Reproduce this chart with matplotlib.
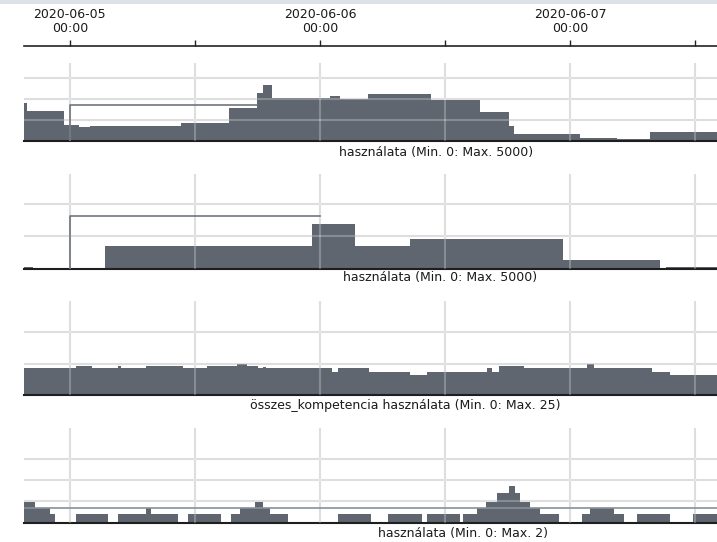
import numpy as np
import matplotlib.pyplot as plt

# time axis: hours after 2020-06-05 00:00
day_labels = ['2020-06-05', '2020-06-06', '2020-06-07']
hour_ticks = [0, 12, 24, 36, 48, 60]
x_start, x_end = -4.4, 62.1

# panel 1 - használata (Max. 5000)
p1_edges = [-4.4, -4.1, -0.6, 0.9, 1.9, 10.7, 15.3, 18.0, 18.5, 19.4, 25.0,
            25.9, 28.6, 34.7, 39.4, 42.1, 42.6, 49.0, 52.5, 55.7, 62.1]
p1_vals = [2260, 1790, 950, 850, 910, 1090, 1980, 2870, 3330, 2540,
           2700, 2520, 2780, 2460, 1740, 890, 400, 160, 100, 520]
p1_box = (0, 18.0, 2140)  # start, end, level of the outline

# panel 2 - használata (Max. 5000)
p2_edges = [-4.4, -3.55, 3.4, 23.2, 27.4, 32.6, 47.3, 56.6, 57.2, 62.1]
p2_vals = [100, 0, 1190, 2290, 1190, 1530, 450, 0, 100]
p2_box = (0, 24.0, 2730)

# panel 3 - összes_kompetencia használata (Max. 25)
p3_edges = [-4.4, 0.6, 2.1, 4.6, 4.9, 7.3, 10.85, 13.15, 16.0, 17.0, 18.1,
            18.5, 18.8, 25.15, 25.7, 28.7, 32.6, 34.3, 40.0, 40.5, 41.2,
            43.6, 49.6, 50.3, 55.9, 57.6, 62.1]
p3_vals = [7.1, 7.7, 7.1, 7.7, 7.1, 7.7, 7.1, 7.7, 8.1, 7.7, 7.1, 7.5, 7.1,
           6.0, 7.1, 6.0, 5.3, 6.0, 7.1, 6.0, 7.7, 7.1, 8.1, 7.1, 6.0, 5.3]

# panel 4 - használata (Max. 2)
p4_edges = [-4.4, -3.3, -1.9, -1.4, 0.6, 3.65, 4.6, 7.3, 7.8, 10.4, 11.3,
            14.5, 15.5, 16.3, 17.8, 18.5, 19.2, 20.9, 25.7, 28.9, 30.5, 33.8,
            34.3, 37.4, 37.7, 39.1, 39.9, 41.0, 42.1, 42.7, 43.2, 44.2, 45.1,
            46.9, 49.15, 49.9, 52.2, 53.2, 54.4, 57.6, 59.8, 62.1]
p4_vals = [0.49, 0.34, 0.2, 0, 0.2, 0, 0.2, 0.34, 0.2, 0, 0.2, 0, 0.2, 0.34,
           0.49, 0.34, 0.2, 0, 0.2, 0, 0.2, 0, 0.2, 0, 0.2, 0.34, 0.49, 0.71,
           0.87, 0.71, 0.49, 0.34, 0.2, 0, 0.2, 0.34, 0.2, 0, 0.2, 0, 0.2]
p4_ref = 0.34

FILL = '#5f6670'
GRID = '#d3d3d3'

W, H = 717, 542
fig = plt.figure(figsize=(W / 100, H / 100), dpi=100)


def px_axes(top, bottom, left=24, right=717):
    return fig.add_axes([left / W, 1 - bottom / H, (right - left) / W, (bottom - top) / H])


def panel(top, bottom, edges, vals, ymax, yticks, label, lx, ly, box=None, ref=None):
    ax = px_axes(top, bottom)
    for h in hour_ticks:
        ax.axvline(h, color=GRID, lw=1.5, zorder=1)
        ax.axvline(h, color='white', alpha=0.25, lw=1.5, zorder=3)
    for v in yticks:
        ax.axhline(v, color=GRID, lw=1.5, zorder=1)
        ax.axhline(v, color='white', alpha=0.25, lw=1.5, zorder=3)
    ax.stairs(vals, edges, fill=True, color=FILL, lw=0, zorder=2)
    if box is not None:
        x0, x1, lev = box
        ax.plot([x0, x0, x1], [0, lev, lev], color='#6f757d', lw=1.2, zorder=4)
    if ref is not None:
        ax.axhline(ref, color='#8a9098', lw=1.2, zorder=4)
    ax.set_xlim(x_start, x_end)
    ax.set_ylim(0, ymax)
    ax.set_xticks([])
    ax.set_yticks([])
    for s in ['top', 'left', 'right']:
        ax.spines[s].set_visible(False)
    ax.spines['bottom'].set_color('#1e1e1e')
    ax.spines['bottom'].set_linewidth(1.5)
    ax.patch.set_alpha(0)
    fig.text(lx / W, 1 - ly / H, label, ha='left', va='center', fontsize=9, color='#1a1a1a')
    return ax


# header with the dates
hd = px_axes(0, 46)
hd.set_xlim(x_start, x_end)
hd.set_ylim(0, 1)
hd.set_xticks(hour_ticks)
hd.tick_params(axis='x', direction='in', length=4, width=1, color='#222222', labelbottom=False)
hd.set_yticks([])
for s in ['top', 'left', 'right']:
    hd.spines[s].set_visible(False)
hd.spines['bottom'].set_color('#222222')
hd.spines['bottom'].set_linewidth(1.2)
for i, d in enumerate(day_labels):
    hd.text(24 * i, (46 - 8) / 46, d + '\n00:00', ha='center', va='top',
            fontsize=9, linespacing=1.1, color='#1a1a1a')

fig.add_artist(plt.Rectangle((0, 1 - 4 / H), 1, 4 / H, transform=fig.transFigure,
                             color='#dde2e8', lw=0))

panel(63, 141, p1_edges, p1_vals, 4640, [1250, 2500, 3750],
      'használata (Min. 0: Max. 5000)', 339, 152.5, box=p1_box)
panel(174, 268.7, p2_edges, p2_vals, 4886, [1667, 3333],
      'használata (Min. 0: Max. 5000)', 343, 278, box=p2_box)
panel(301, 395, p3_edges, p3_vals, 24.9, [8.33, 16.67],
      'összes_kompetencia használata (Min. 0: Max. 25)', 250, 405.5)
panel(428, 522.5, p4_edges, p4_vals, 2.24, [0.5, 1.0, 1.5],
      'használata (Min. 0: Max. 2)', 378, 534, ref=p4_ref)

fig.savefig('out.png', dpi=100)
